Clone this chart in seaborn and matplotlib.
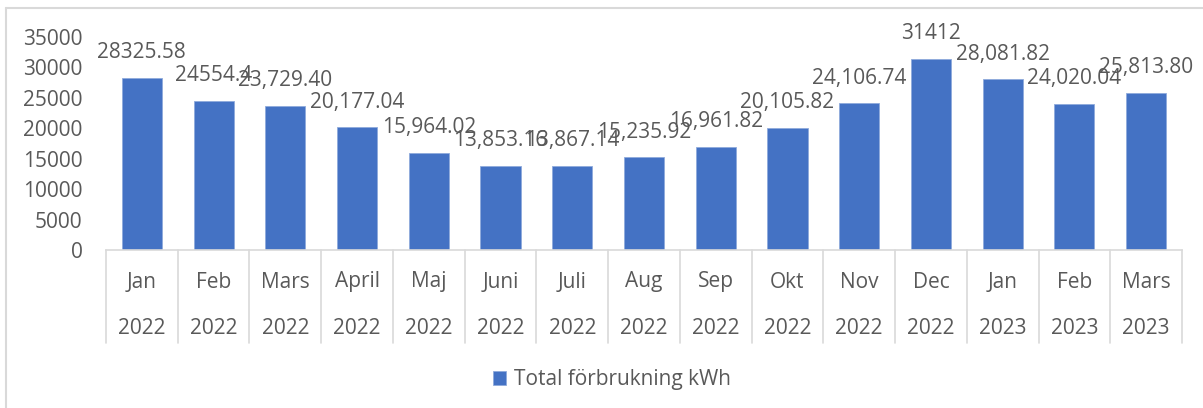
import matplotlib
matplotlib.use('Agg')
import matplotlib.pyplot as plt
import seaborn as sns
import pandas as pd
from matplotlib.lines import Line2D

months = ['Jan', 'Feb', 'Mars', 'April', 'Maj', 'Juni', 'Juli', 'Aug', 'Sep',
          'Okt', 'Nov', 'Dec', 'Jan', 'Feb', 'Mars']
years = ['2022'] * 12 + ['2023'] * 3
usage = [28325.58, 24554.4, 23729.40, 20177.04, 15964.02, 13853.16, 13867.14,
         15235.92, 16961.82, 20105.82, 24106.74, 31412, 28081.82, 24020.04, 25813.80]
value_labels = ['28325.58', '24554.4', '23,729.40', '20,177.04', '15,964.02',
                '13,853.16', '13,867.14', '15,235.92', '16,961.82', '20,105.82',
                '24,106.74', '31412', '28,081.82', '24,020.04', '25,813.80']
yticks = [0, 5000, 10000, 15000, 20000, 25000, 30000, 35000]

sns.set_style('white')
plt.rcParams['font.family'] = ['Open Sans', 'DejaVu Sans']
text_color = '#595959'
grid_color = '#D9D9D9'

df = pd.DataFrame({'period': [m + ' ' + y for m, y in zip(months, years)],
                   'kWh': usage})

fig = plt.figure(figsize=(12.03, 4.08), dpi=100)
W, H = 1203, 408
ax = fig.add_axes([106 / W, 1 - 250 / H, 1076 / W, 213 / H])

sns.barplot(data=df, x='period', y='kWh', color='#4472C4', width=0.56,
            saturation=1, edgecolor='#8FAADC', linewidth=0.6,
            label='Total förbrukning kWh', ax=ax)

ax.set_ylim(0, 35000)
ax.set_xlim(-0.5, len(months) - 0.5)
ax.set_yticks(yticks)
ax.set_yticklabels([str(t) for t in yticks], fontsize=15, color=text_color)
ax.tick_params(axis='y', length=0, pad=17)
ax.set_xticks([])
ax.set_xlabel('')
ax.set_ylabel('')
for side in ['top', 'right', 'left']:
    ax.spines[side].set_visible(False)
ax.spines['bottom'].set_color(grid_color)
ax.spines['bottom'].set_linewidth(1.2)

# category separators + two-level labels below the axis
trans = ax.get_xaxis_transform()
for i in range(len(months) + 1):
    ax.plot([i - 0.5, i - 0.5], [0, -93 / 213], color=grid_color, lw=1.2,
            transform=trans, clip_on=False)
for i, (m, y) in enumerate(zip(months, years)):
    ax.text(i, -32 / 213, m, ha='center', va='center', fontsize=15,
            color=text_color, transform=trans)
    ax.text(i, -78 / 213, y, ha='center', va='center', fontsize=15,
            color=text_color, transform=trans)

# data labels
for i, (v, lab) in enumerate(zip(usage, value_labels)):
    ax.annotate(lab, (i, v), xytext=(0, 18), textcoords='offset points',
                ha='center', va='center', fontsize=15, color=text_color)

leg = ax.legend(loc='center', bbox_to_anchor=(612 / W, 1 - 380 / H),
                bbox_transform=fig.transFigure, frameon=False, fontsize=15,
                handlelength=0.65, handleheight=0.65, handletextpad=0.4)
for t in leg.get_texts():
    t.set_color(text_color)

# outer chart border (left and top visible)
fig.add_artist(Line2D([6 / W, 6 / W], [0, 1 - 8 / H], color=grid_color, lw=1.5))
fig.add_artist(Line2D([6 / W, 1], [1 - 8 / H, 1 - 8 / H], color=grid_color, lw=1.5))

fig.savefig('out.png', dpi=100)
